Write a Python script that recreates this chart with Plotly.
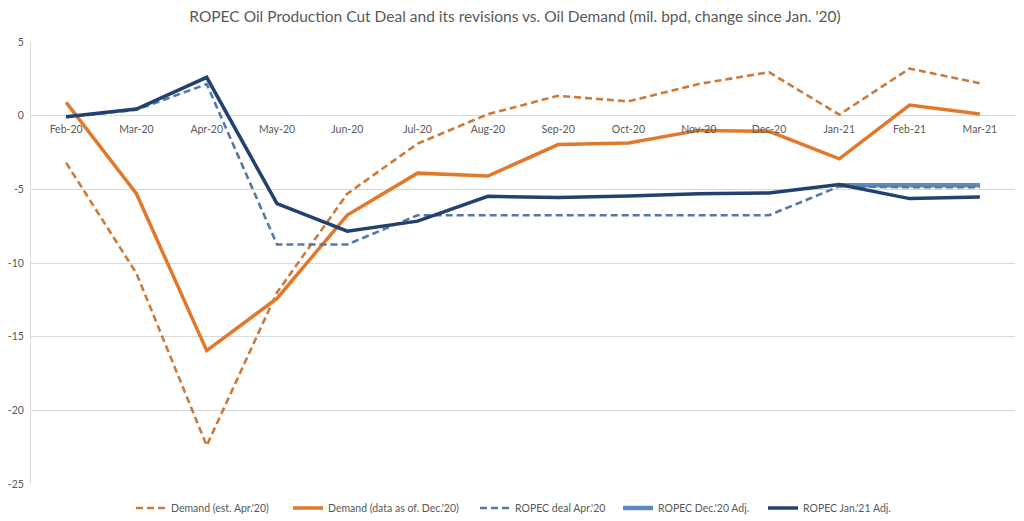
import plotly.graph_objects as go

months = ["Feb-20", "Mar-20", "Apr-20", "May-20", "Jun-20", "Jul-20", "Aug-20",
          "Sep-20", "Oct-20", "Nov-20", "Dec-20", "Jan-21", "Feb-21", "Mar-21"]

demand_est_apr20 = [-3.2, -10.7, -22.4, -12.0, -5.3, -1.9, 0.1, 1.35, 0.97, 2.15, 2.95, 0.07, 3.2, 2.2]
demand_dec20 = [0.9, -5.3, -15.95, -12.4, -6.75, -3.9, -4.1, -1.96, -1.85, -1.0, -1.06, -2.93, 0.72, 0.11]
ropec_apr20 = [-0.1, 0.4, 2.14, -8.74, -8.74, -6.76, -6.76, -6.76, -6.76, -6.76, -6.76, -4.8, -4.86, -4.86]
ropec_dec20 = [None, None, None, None, None, None, None, None, None, None, None, -4.72, -4.72, -4.72]
ropec_jan21 = [-0.07, 0.45, 2.6, -5.97, -7.84, -7.16, -5.47, -5.56, -5.45, -5.3, -5.25, -4.68, -5.63, -5.52]

y_ticks = [5, 0, -5, -10, -15, -20, -25]
y_tick_labels = ["5", "0", "-5", "-10", "-15", "-20", "-25"]

title = "ROPEC Oil Production Cut Deal and its revisions vs. Oil Demand (mil. bpd, change since Jan. '20)"

FONT = "Lato, 'Open Sans', sans-serif"
GREY = "#595959"

fig = go.Figure()
fig.add_trace(go.Scatter(x=months, y=demand_est_apr20, mode="lines", name="Demand (est. Apr.'20)",
                         line=dict(color="#CC7A3A", width=2.6, dash="7px,4px"), legend="legend"))
fig.add_trace(go.Scatter(x=months, y=demand_dec20, mode="lines", name="Demand (data as of. Dec.'20)",
                         line=dict(color="#E2792A", width=3.5), legend="legend2"))
fig.add_trace(go.Scatter(x=months, y=ropec_dec20, mode="lines", name="ROPEC Dec.'20 Adj.",
                         line=dict(color="#5E89BB", width=4.5), legend="legend4"))
fig.add_trace(go.Scatter(x=months, y=ropec_apr20, mode="lines", name="ROPEC deal Apr.'20",
                         line=dict(color="#5579A6", width=2.6, dash="7px,4px"), legend="legend3"))
fig.add_trace(go.Scatter(x=months, y=ropec_jan21, mode="lines", name="ROPEC Jan.'21 Adj.",
                         line=dict(color="#22416E", width=3.5), legend="legend5"))

W, H = 1016, 513
L, R, T, B = 23, 9, 34, 37
plot_w = W - L - R
plot_h = H - T - B


def legend_at(px_x):
    return dict(orientation="h", x=(px_x - L) / plot_w, xanchor="left",
                y=-(500 - (H - B)) / plot_h, yanchor="middle",
                font=dict(family=FONT, size=10.5, color=GREY),
                bgcolor="rgba(0,0,0,0)", itemwidth=30)


legend_px = [123, 280, 467, 610, 755]

fig.update_layout(
    width=W, height=H,
    margin=dict(l=L, r=R, t=T, b=B, autoexpand=False),
    paper_bgcolor="white", plot_bgcolor="white",
    title=dict(text=title, x=507 / W, xanchor="center", xref="container",
               y=1 - 9 / H, yref="container", yanchor="middle",
               font=dict(family=FONT, size=15.5, color=GREY)),
    font=dict(family=FONT, color=GREY),
    showlegend=True,
    legend=legend_at(legend_px[0]),
    legend2=legend_at(legend_px[1]),
    legend3=legend_at(legend_px[2]),
    legend4=legend_at(legend_px[3]),
    legend5=legend_at(legend_px[4]),
    xaxis=dict(type="category", range=[-0.5, 13.5], anchor="free", position=25 / 30,
               showgrid=False, showline=False, ticks="", zeroline=False,
               ticklabelstandoff=6,
               tickfont=dict(family=FONT, size=10.5, color=GREY)),
    yaxis=dict(range=[-25, 5], tickvals=y_ticks, ticktext=y_tick_labels,
               showgrid=True, gridcolor="#D9D9D9", gridwidth=1, zeroline=False,
               showline=True, linecolor="#D9D9D9", linewidth=1, ticks="",
               ticklabelstandoff=4,
               tickfont=dict(family=FONT, size=10.5, color=GREY)),
)

fig.write_html("out.html")
